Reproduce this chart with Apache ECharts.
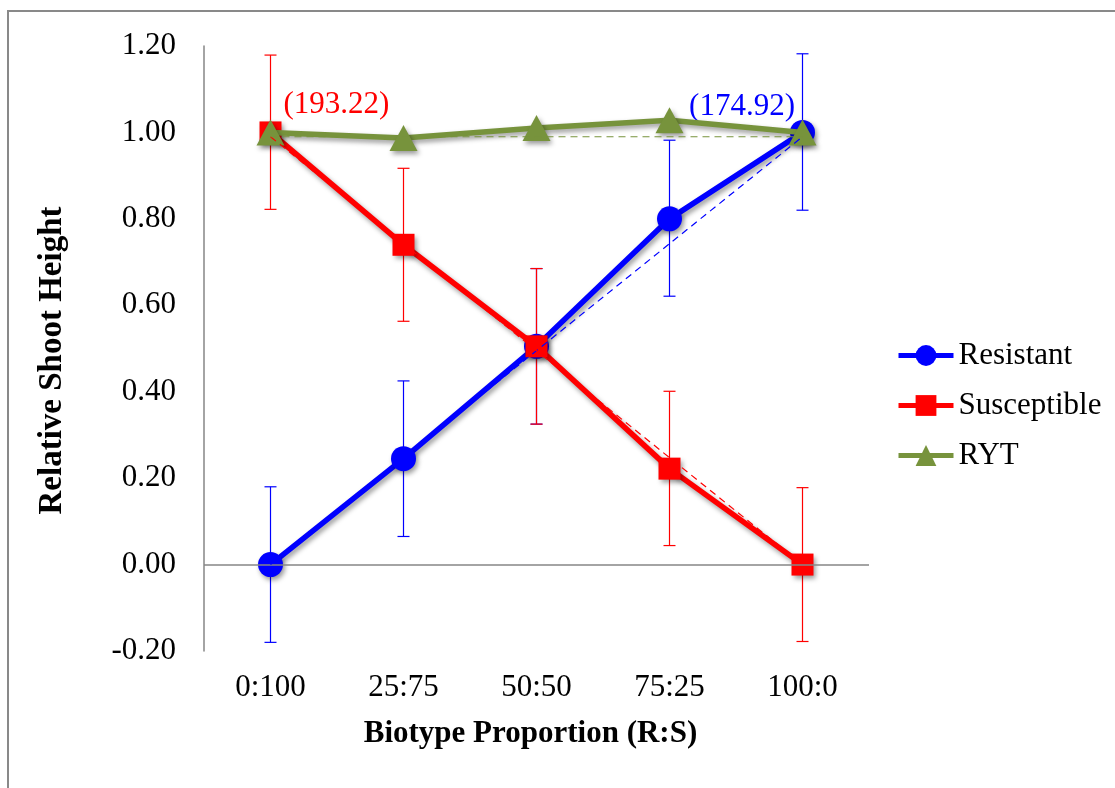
<!DOCTYPE html>
<html>
<head>
<meta charset="utf-8">
<script src="https://cdn.jsdelivr.net/npm/echarts@6/dist/echarts.min.js"></script>
<style>
  html, body { margin: 0; padding: 0; background: #ffffff; }
  #chart { width: 1115px; height: 788px; }
</style>
</head>
<body>
<div id="chart"></div>
<script>
// Biotype proportions (R:S) along the x axis
const categories = ['0:100', '25:75', '50:50', '75:25', '100:0'];

// Relative shoot height of each biotype and the relative yield total
const resistant   = [0.00, 0.245, 0.505, 0.80, 1.00];
const susceptible = [1.00, 0.74, 0.505, 0.222, 0.00];
const ryt         = [1.00, 0.987, 1.01, 1.028, 1.00];

// Error bar ends (lower, upper)
const resistantLow   = [-0.18, 0.065, 0.325, 0.621, 0.82];
const resistantHigh  = [0.18, 0.425, 0.685, 0.982, 1.182];
const susceptibleLow = [0.822, 0.563, 0.325, 0.044, -0.178];
const susceptibleHigh= [1.179, 0.917, 0.685, 0.401, 0.178];

// Expected (no-interaction) lines, drawn between the two monocultures
const expectedResistant   = [0.00, 0.99];
const expectedSusceptible = [0.99, 0.00];
const expectedRyt         = [0.99, 0.99];

// Monoculture shoot heights printed beside the end points
const monoLabels = ['(193.22)', '(174.92)'];

// Y axis ticks
const yMin = -0.2, yMax = 1.2, yStep = 0.2;

const FONT = 'Liberation Serif';
const BLUE = '#0000ff', RED = '#ff0000', GREEN = '#77933c', AXIS = '#868686';

const shadow = { shadowColor: 'rgba(0,0,0,0.4)', shadowBlur: 5, shadowOffsetX: 2, shadowOffsetY: 3 };
const noShadow = { shadowBlur: 0, shadowColor: 'transparent', shadowOffsetX: 0, shadowOffsetY: 0 };

function errorSeries(low, high, color) {
  return {
    type: 'custom',
    silent: true,
    z: 1,
    data: low.map((l, i) => [i, l, high[i]]),
    encode: { x: 0, y: [1, 2] },
    renderItem(params, api) {
      const i = api.value(0);
      const lo = api.coord([i, api.value(1)]);
      const hi = api.coord([i, api.value(2)]);
      const half = 6;
      const style = { stroke: color, lineWidth: 1.2 };
      return {
        type: 'group',
        children: [
          { type: 'line', shape: { x1: hi[0], y1: hi[1], x2: lo[0], y2: lo[1] }, style },
          { type: 'line', shape: { x1: hi[0] - half, y1: hi[1], x2: hi[0] + half, y2: hi[1] }, style },
          { type: 'line', shape: { x1: lo[0] - half, y1: lo[1], x2: lo[0] + half, y2: lo[1] }, style }
        ]
      };
    }
  };
}

function expectedSeries(ends, color) {
  return {
    type: 'line',
    silent: true,
    z: 5,
    symbol: 'none',
    data: [[categories[0], ends[0]], [categories[categories.length - 1], ends[1]]],
    lineStyle: { color, width: 1.2, type: [7, 5] }
  };
}

const chart = echarts.init(document.getElementById('chart'), null, { renderer: 'canvas' });

chart.setOption({
  backgroundColor: '#ffffff',
  animation: false,
  textStyle: { fontFamily: FONT },
  graphic: [{
    type: 'rect',
    silent: true,
    shape: { x: 8, y: 11, width: 1200, height: 900 },
    style: { fill: 'none', stroke: '#898989', lineWidth: 2 }
  }],
  grid: { left: 204, right: 246, top: 46, bottom: 137 },
  legend: {
    orient: 'vertical',
    left: 896,
    top: 340,
    padding: 0,
    itemWidth: 55,
    itemHeight: 26,
    itemGap: 19,
    data: ['Resistant', 'Susceptible', 'RYT'],
    itemStyle: noShadow,
    lineStyle: Object.assign({ width: 5 }, noShadow),
    textStyle: { fontFamily: FONT, fontSize: 31, color: '#000' }
  },
  xAxis: {
    type: 'category',
    data: categories,
    boundaryGap: true,
    axisLine: { show: false },
    axisTick: { show: false },
    axisLabel: { fontFamily: FONT, fontSize: 31, color: '#000', margin: 21 },
    name: 'Biotype Proportion (R:S)',
    nameLocation: 'middle',
    nameGap: 67,
    nameTextStyle: { fontFamily: FONT, fontSize: 31, fontWeight: 'bold', color: '#000', padding: [0, 12, 0, 0] }
  },
  yAxis: {
    type: 'value',
    min: yMin,
    max: yMax,
    interval: yStep,
    splitLine: { show: false },
    axisTick: { show: false },
    axisLine: { show: true, lineStyle: { color: AXIS, width: 1.5 } },
    axisLabel: {
      fontFamily: FONT, fontSize: 31, color: '#000', margin: 28,
      formatter: v => (Math.abs(v) < 1e-9 ? 0 : v).toFixed(2)
    },
    name: 'Relative Shoot Height',
    nameLocation: 'middle',
    nameRotate: 90,
    nameGap: 135,
    nameTextStyle: { fontFamily: FONT, fontSize: 33, fontWeight: 'bold', color: '#000', padding: [0, 24, 0, 0] }
  },
  series: [
    errorSeries(resistantLow, resistantHigh, BLUE),
    errorSeries(susceptibleLow, susceptibleHigh, RED),
    {
      name: 'Resistant',
      type: 'line',
      z: 2,
      data: resistant.map((v, i) => i === 4 ? {
        value: v,
        label: {
          show: true, formatter: monoLabels[1], position: [5, -13],
          align: 'right', verticalAlign: 'middle',
          fontFamily: FONT, fontSize: 31, color: BLUE
        }
      } : v),
      symbol: 'circle',
      symbolSize: 25,
      lineStyle: Object.assign({ color: BLUE, width: 5.5 }, shadow),
      itemStyle: Object.assign({ color: BLUE }, shadow),
      markLine: {
        silent: true,
        symbol: 'none',
        label: { show: false },
        data: [{ yAxis: 0 }],
        lineStyle: { color: AXIS, width: 1.5, type: 'solid' }
      }
    },
    {
      name: 'Susceptible',
      type: 'line',
      z: 3,
      data: susceptible.map((v, i) => i === 0 ? {
        value: v,
        label: {
          show: true, formatter: monoLabels[0], position: [24, -17],
          align: 'left', verticalAlign: 'middle',
          fontFamily: FONT, fontSize: 31, color: RED
        }
      } : v),
      symbol: 'rect',
      symbolSize: 22,
      lineStyle: Object.assign({ color: RED, width: 5.5 }, shadow),
      itemStyle: Object.assign({ color: RED }, shadow)
    },
    {
      name: 'RYT',
      type: 'line',
      z: 4,
      data: ryt,
      symbol: 'triangle',
      symbolSize: [28, 26],
      lineStyle: Object.assign({ color: GREEN, width: 5.5 }, shadow),
      itemStyle: Object.assign({ color: GREEN }, shadow)
    },
    expectedSeries(expectedResistant, BLUE),
    expectedSeries(expectedSusceptible, RED),
    expectedSeries(expectedRyt, GREEN)
  ]
});
</script>
</body>
</html>
